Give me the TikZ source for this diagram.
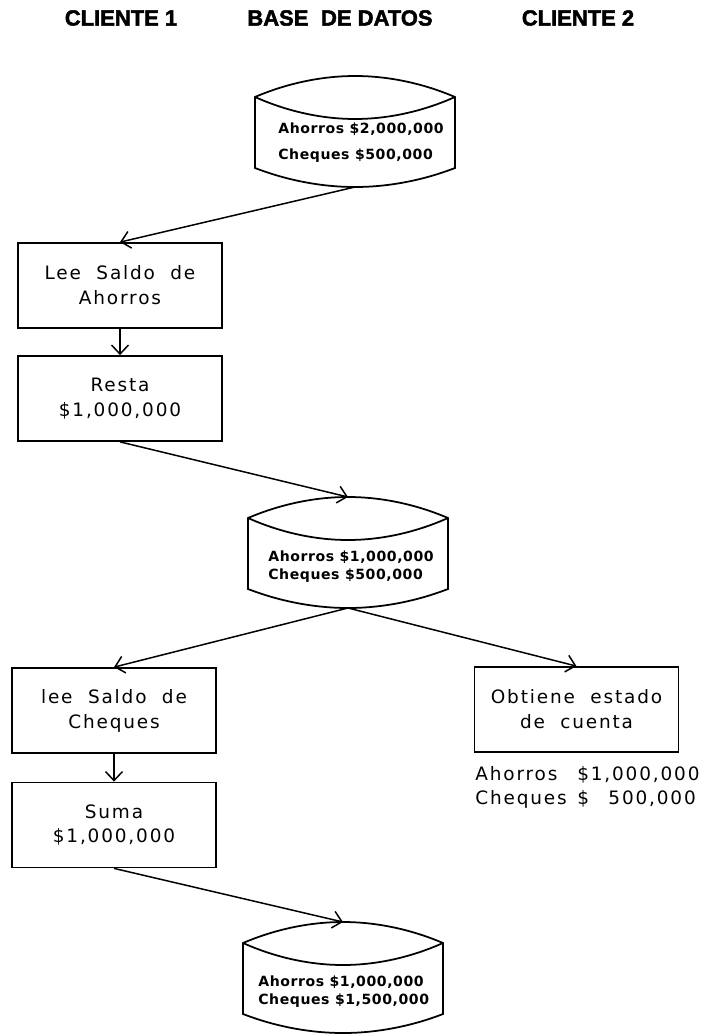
\documentclass[tikz,border=0pt]{standalone}
\usepackage{fontspec}
\setmainfont{Liberation Sans}
\newfontfamily\plotfont[LetterSpace=10,WordSpace=2]{DejaVu Sans}
\newfontfamily\dbfont[LetterSpace=4]{DejaVu Sans}
\newfontfamily\headfont[BoldFeatures={FakeBold=2}]{Liberation Sans}
\usetikzlibrary{arrows.meta,positioning}
\tikzset{
  procbox/.style = {draw, line width=1pt, minimum width=40.8mm, minimum height=17mm,
                    align=center, font=\plotfont\fontsize{10.5}{14.2}\selectfont},
  head/.style    = {font=\headfont\bfseries\fontsize{12.5}{15}\selectfont},
  dbtext/.style  = {align=left, anchor=west, inner sep=0pt,
                    font=\dbfont\bfseries\fontsize{8}{10.2}\selectfont},
  flow/.style    = {-{Straight Barb[length=1.8mm,width=3.4mm]}, line width=0.85pt},
  dbline/.style  = {line width=1pt},
}
% drum: name, centre x, top y
\newcommand{\dbdrum}[3]{%
  \draw[dbline] (#2-100,#3+21) parabola bend (#2,#3) (#2+100,#3+21)
        -- (#2+100,#3+92) parabola bend (#2,#3+111) (#2-100,#3+92) -- cycle;
  \draw[dbline] (#2-100,#3+21) parabola bend (#2,#3+43) (#2+100,#3+21);
  \coordinate (#1 top) at (#2,#3);
  \coordinate (#1 bot) at (#2,#3+111);
}

\begin{document}
\begin{tikzpicture}[x=0.2mm,y=-0.2mm]
  \useasboundingbox (0,0) rectangle (705,1035);

  % ---------------- headings ----------------------------------------------
  \node[head] (cli1) at (121,18) {CLIENTE 1};
  \node[head] (base) at (340,18) {BASE\hspace{0.3em} DE DATOS};
  \node[head] (cli2) at (578,18) {CLIENTE 2};

  % ---------------- data base states --------------------------------------
  \dbdrum{db1}{355}{76}
  \node[dbtext] (db1 lbl) at (278,143) {Ahorros \$2,000,000\\[4.5pt] Cheques \$500,000};
  \dbdrum{db2}{348}{497}
  \node[dbtext] (db2 lbl) at (268,567) {Ahorros \$1,000,000\\ Cheques \$500,000};
  \dbdrum{db3}{343}{922}
  \node[dbtext] (db3 lbl) at (258,992) {Ahorros \$1,000,000\\ Cheques \$1,500,000};

  % ---------------- client 1 ----------------------------------------------
  \node[procbox] (lee1)  at (120,285.5) {Lee Saldo de\\ Ahorros};
  \node[procbox] (resta) at (120,398.5) {Resta\\ \$1,000,000};
  \node[procbox] (lee2)  at (114,710.5) {lee Saldo de\\ Cheques};
  \node[procbox] (suma)  at (114,825)   {Suma\\ \$1,000,000};

  % ---------------- client 2 ----------------------------------------------
  \node[procbox] (obtiene) at (576.5,709.5) {Obtiene estado\\ de cuenta};
  \node[anchor=west, inner sep=0pt, font=\plotfont\fontsize{10.5}{14.2}\selectfont]
       (saldo) at (475,787.5)
       {\begin{tabular}{@{}l@{\hspace{6pt}}l@{}}
          Ahorros & \$1,000,000\\
          Cheques & \$\phantom{1,}500,000
        \end{tabular}};

  % ---------------- flow --------------------------------------------------
  \draw[flow] (db1 bot) -- (lee1.north);
  \draw[flow] (lee1) -- (resta);
  \draw[flow] (resta.south) -- (db2 top);
  \draw[flow] (db2 bot) -- (lee2.north);
  \draw[flow] (db2 bot) -- (obtiene.north);
  \draw[flow] (lee2) -- (suma);
  \draw[flow] (suma.south) -- (db3 top);
\end{tikzpicture}
\end{document}
